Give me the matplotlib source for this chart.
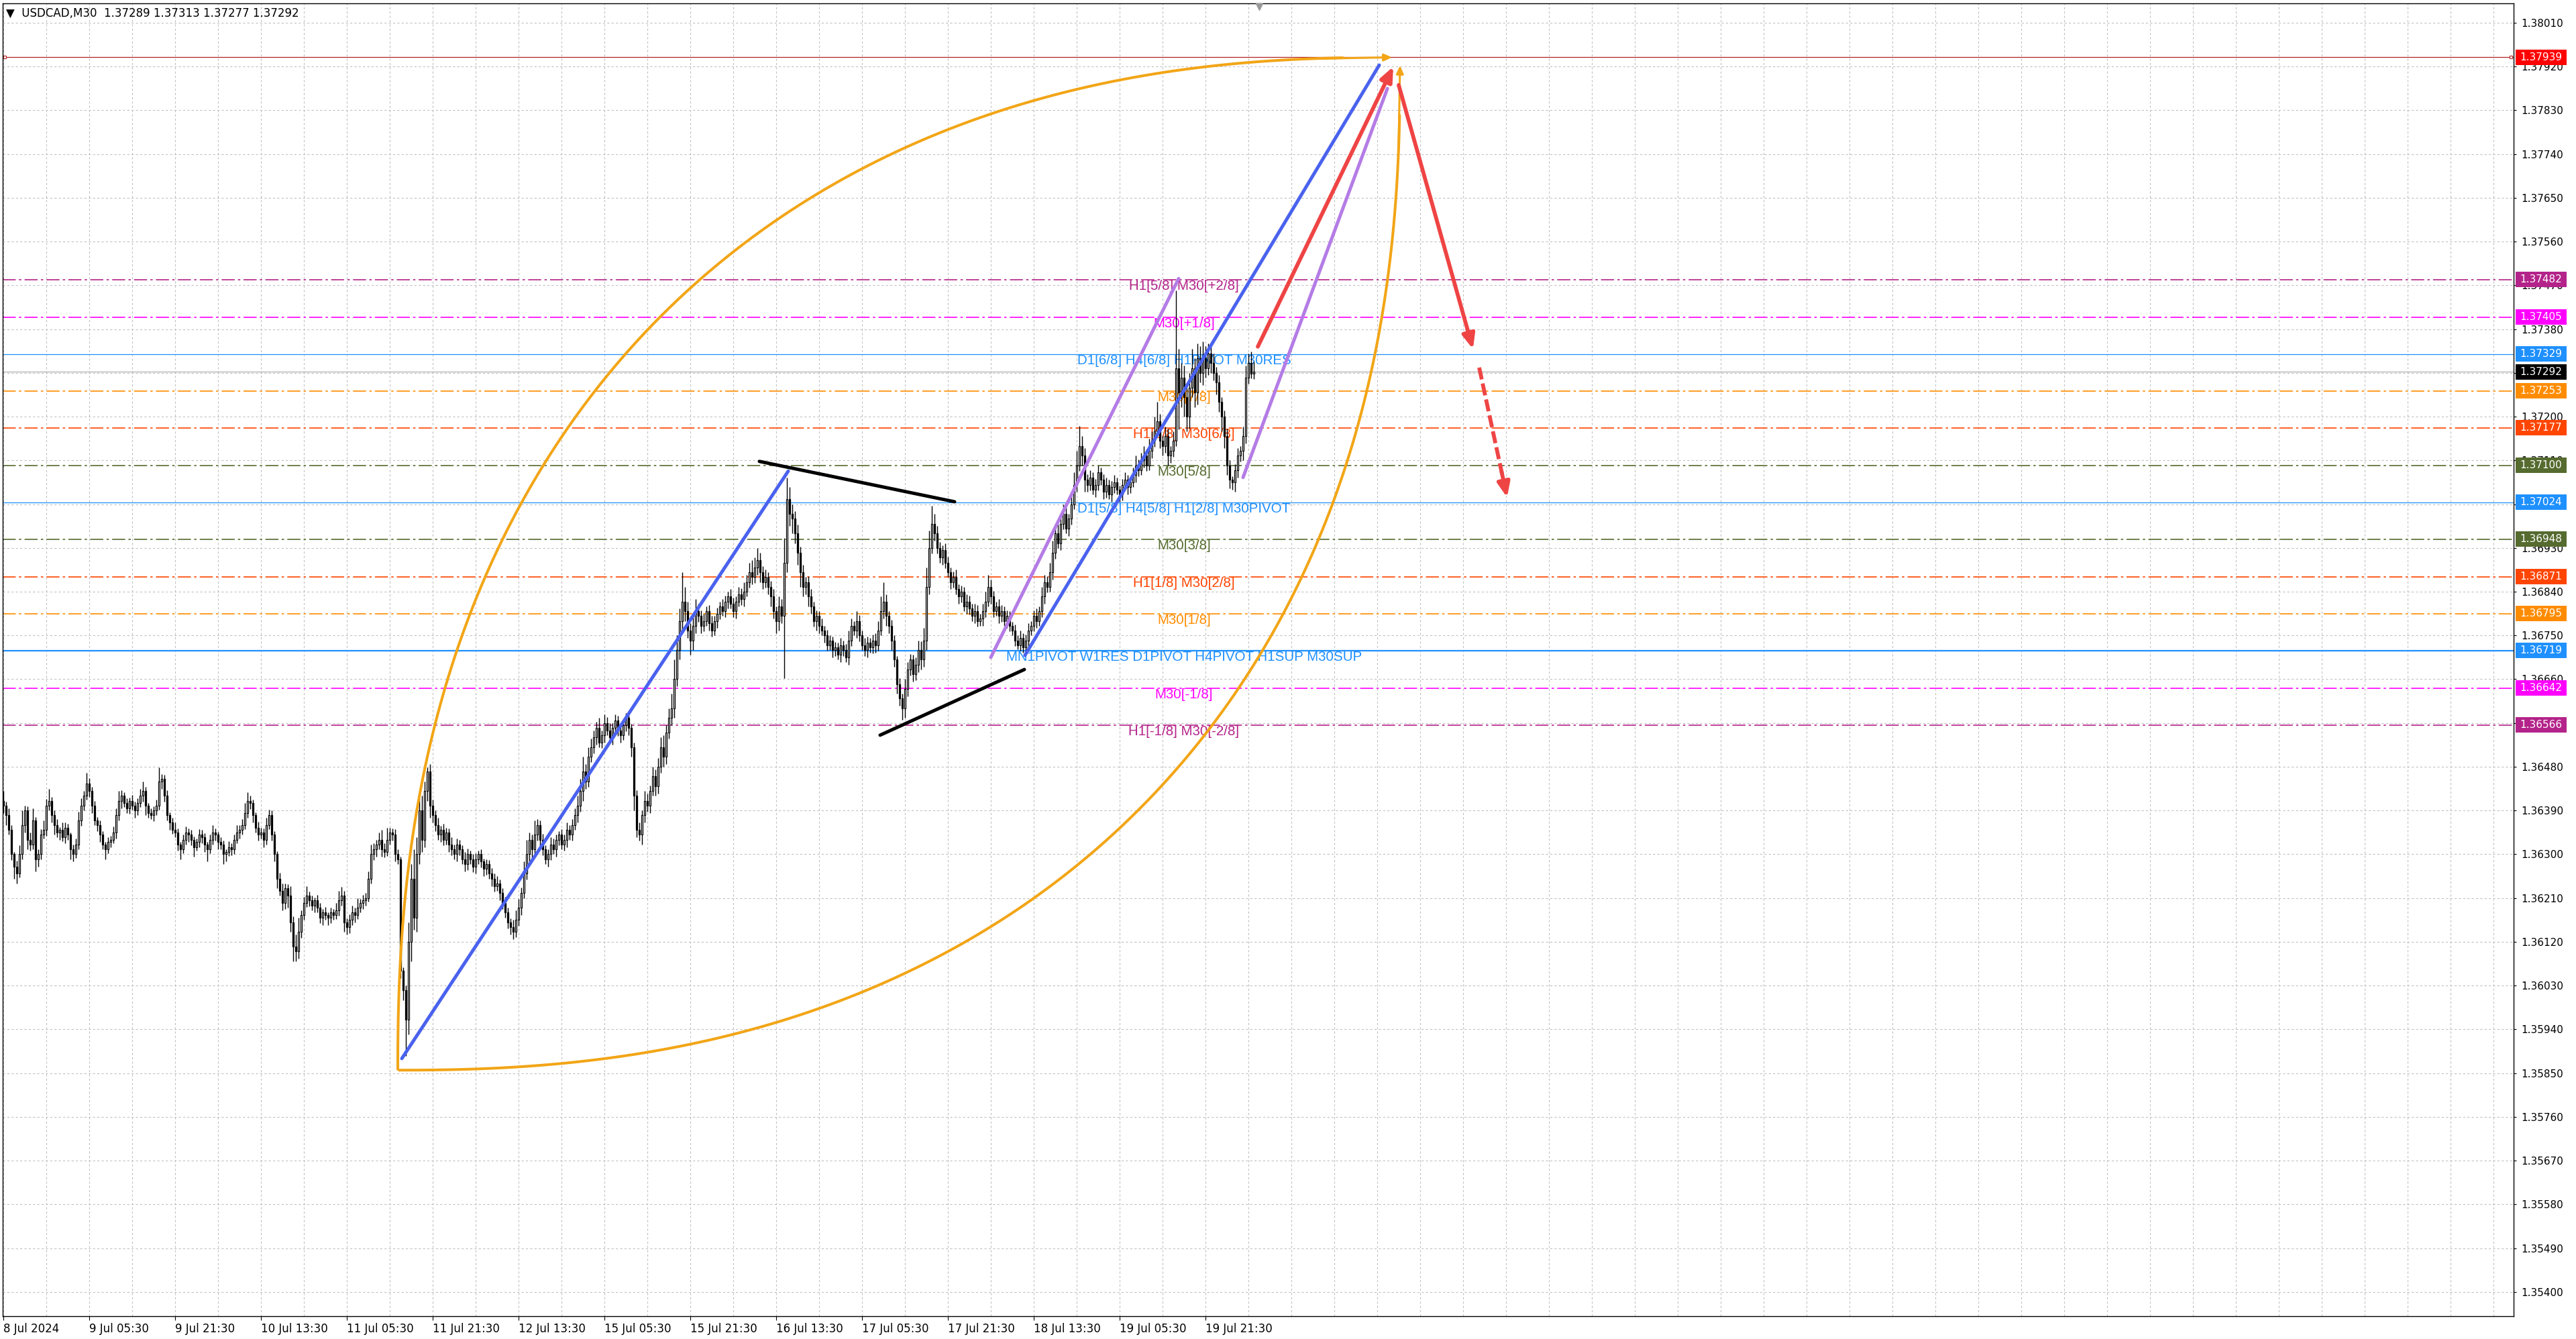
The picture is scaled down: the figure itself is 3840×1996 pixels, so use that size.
import numpy as np
import matplotlib
matplotlib.use('Agg')
import matplotlib.pyplot as plt
from matplotlib.patches import Rectangle, FancyArrowPatch
from matplotlib.ticker import FixedLocator, MultipleLocator
import matplotlib.transforms as mtransforms

plt.rcParams['font.family'] = 'DejaVu Sans'
plt.rcParams['lines.scale_dashes'] = False

# prices are kept in points (0.00001) above 1.36000
BASE = 1.36000
PT = 0.00001

# M30 closes, one per bar
closes = [
    400, 380, 350, 300, 275, 260, 300, 360, 390, 330,
    320, 370, 290, 300, 340, 350, 400, 410, 380, 360,
    345, 350, 335, 355, 340, 310, 300, 320, 370, 400,
    420, 445, 430, 400, 370, 360, 340, 320, 310, 325,
    330, 345, 380, 410, 420, 405, 395, 410, 400, 390,
    405, 420, 430, 400, 385, 380, 390, 400, 450, 455,
    420, 380, 365, 350, 345, 320, 310, 330, 345, 340,
    330, 315, 325, 340, 335, 320, 310, 330, 345, 340,
    325, 320, 300, 305, 315, 310, 330, 345, 350, 360,
    385, 410, 405, 380, 355, 340, 345, 330, 360, 380,
    340, 300, 250, 225, 200, 230, 215, 160, 110, 100,
    140, 175, 200, 215, 205, 195, 205, 190, 170, 180,
    175, 170, 180, 175, 185, 205, 215, 160, 150, 165,
    180, 175, 190, 200, 205, 210, 250, 300, 310, 320,
    330, 310, 305, 330, 345, 340, 300, 290, 60, 20,
    -40, 120, 250, 170, 300, 390, 330, 430, 470, 400,
    380, 360, 340, 350, 330, 345, 320, 310, 300, 320,
    310, 290, 280, 300, 290, 275, 290, 300, 285, 270,
    280, 260, 250, 235, 240, 220, 200, 180, 160, 150,
    140, 165, 190, 220, 260, 300, 330, 310, 340, 360,
    330, 310, 290, 300, 320, 310, 330, 340, 320, 330,
    350, 340, 360, 380, 400, 430, 470, 450, 500, 520,
    540, 560, 530, 545, 570, 555, 540, 560, 575, 555,
    545, 565, 580, 560, 520, 420, 350, 340, 380, 410,
    400, 430, 460, 440, 480, 520, 500, 550, 580, 600,
    660, 720, 780, 820, 800, 760, 740, 770, 800, 790,
    770, 780, 800, 775, 760, 780, 795, 810, 800, 820,
    830, 815, 800, 820, 835, 825, 840, 860, 880, 870,
    890, 905, 880, 860, 870, 850, 830, 800, 780, 810,
    790, 900, 1030, 1000, 990, 960, 920, 880, 850, 860,
    830, 810, 780, 790, 770, 760, 750, 730, 740, 720,
    725, 710, 730, 720, 705, 740, 770, 760, 780, 750,
    730, 720, 735, 725, 740, 730, 760, 800, 820, 790,
    770, 740, 700, 650, 620, 600, 640, 680, 700, 670,
    690, 720, 700, 740, 850, 930, 980, 960, 930, 910,
    925, 900, 880, 860, 870, 845, 830, 840, 810, 820,
    805, 790, 800, 780, 785, 800, 820, 850, 830, 800,
    810, 790, 800, 780, 790, 770, 760, 740, 730, 745,
    725, 740, 760, 770, 790, 780, 800, 830, 860, 850,
    880, 920, 960, 940, 980, 1000, 970, 990, 1020, 1060,
    1100, 1140, 1120, 1070, 1060, 1075, 1050, 1060, 1085, 1070,
    1045, 1060, 1040, 1055, 1065, 1050, 1040, 1060, 1070, 1055,
    1065, 1080, 1100, 1090, 1110, 1120, 1100, 1130, 1150, 1170,
    1190, 1150, 1140, 1160, 1120, 1130, 1150, 1300, 1250, 1280,
    1240, 1200, 1260, 1300, 1250, 1320, 1290, 1320, 1300, 1330,
    1310, 1290, 1270, 1230, 1200, 1160, 1100, 1070, 1065, 1090,
    1120, 1130, 1160, 1280, 1310, 1289, 1292,
]
first_open = 410

upper_wick = [
    20, 8, 15, 10, 5, 12, 18, 30, 10, 8, 15, 25, 6, 10, 12, 20, 14, 25, 8, 10,
    12, 6, 15, 10, 8, 5, 10, 12, 18, 15, 10, 22, 12, 8, 10, 6, 10, 8, 5, 10,
    8, 12, 15, 20, 12, 8, 10, 6, 12, 8, 10, 15, 20, 8, 6, 10, 8, 12, 28, 10,
    8, 12, 6, 10, 15, 8, 5, 10, 12, 8, 10, 6, 8, 12, 10, 8, 5, 10, 15, 8,
    6, 10, 8, 5, 12, 8, 10, 15, 10, 12, 20, 18, 10, 8, 6, 12, 10, 8, 15, 12,
    10, 8, 6, 12, 15, 10, 8, 20, 12, 25, 30, 10, 12, 20, 8, 10, 6, 12, 10, 8,
    12, 6, 10, 8, 15, 20, 18, 10, 8, 12, 15, 10, 20, 8, 12, 10, 15, 20, 12, 10,
    15, 20, 12, 25, 10, 8, 12, 10, 5, 8, 10, 40, 30, 60, 35, 25, 30, 20, 9, 15,
    12, 10, 15, 8, 12, 10, 8, 15, 10, 12, 10, 8, 15, 12, 8, 10, 12, 8, 10, 6,
    10, 8, 12, 10, 15, 8, 10, 12, 10, 8, 15, 20, 18, 12, 25, 30, 15, 10, 30, 12,
    10, 12, 8, 10, 15, 12, 10, 8, 12, 10, 15, 10, 12, 15, 20, 25, 30, 15, 20, 18,
    15, 12, 20, 10, 18, 12, 15, 10, 12, 10, 15, 8, 10, 12, 8, 10, 12, 15, 10, 20,
    15, 12, 20, 15, 18, 20, 25, 15, 20, 30, 40, 30, 25, 60, 30, 20, 15, 20, 25, 15,
    12, 15, 10, 12, 15, 10, 12, 10, 15, 12, 10, 15, 12, 10, 15, 12, 20, 15, 20, 25,
    20, 25, 15, 12, 15, 10, 12, 15, 10, 20, 15, 50, 44, 25, 20, 15, 18, 12, 15, 10,
    12, 15, 10, 12, 10, 15, 10, 12, 10, 8, 12, 10, 15, 10, 12, 20, 15, 10, 20, 12,
    10, 15, 12, 10, 12, 15, 20, 30, 40, 15, 10, 12, 10, 8, 12, 10, 20, 15, 12, 10,
    15, 20, 18, 25, 40, 35, 37, 20, 15, 12, 10, 15, 12, 10, 12, 15, 10, 12, 10, 15,
    12, 10, 15, 12, 10, 15, 20, 25, 15, 12, 10, 15, 12, 10, 12, 10, 8, 12, 10, 15,
    10, 12, 15, 10, 12, 15, 10, 20, 15, 12, 20, 25, 15, 20, 15, 20, 15, 10, 20, 25,
    30, 41, 20, 15, 12, 15, 10, 12, 15, 10, 12, 15, 10, 12, 15, 10, 8, 12, 15, 10,
    12, 15, 20, 12, 15, 20, 12, 25, 20, 30, 40, 15, 12, 20, 15, 10, 20, 160, 40, 30,
    25, 20, 30, 40, 20, 30, 25, 35, 25, 20, 15, 20, 12, 15, 10, 12, 15, 10, 8, 12,
    15, 10, 20, 25, 20, 24, 21,
]

lower_wick = [
    15, 20, 10, 12, 25, 20, 8, 10, 15, 20, 12, 10, 25, 15, 10, 8, 12, 10, 15, 20,
    10, 15, 8, 12, 10, 20, 15, 8, 10, 12, 10, 8, 12, 15, 10, 12, 15, 10, 20, 8,
    10, 8, 12, 10, 15, 8, 10, 12, 8, 15, 10, 8, 12, 20, 10, 8, 12, 10, 8, 15,
    12, 10, 15, 8, 10, 12, 20, 8, 10, 15, 12, 20, 8, 10, 12, 15, 25, 8, 10, 12,
    15, 10, 20, 15, 8, 12, 10, 8, 12, 10, 8, 10, 12, 15, 10, 12, 8, 15, 10, 8,
    12, 15, 20, 10, 15, 12, 25, 20, 30, 20, 15, 12, 10, 8, 12, 10, 15, 10, 12, 15,
    10, 15, 12, 10, 8, 12, 10, 20, 15, 12, 10, 15, 8, 10, 12, 10, 8, 10, 12, 15,
    10, 15, 12, 8, 10, 12, 15, 10, 15, 20, 75, 30, 40, 25, 30, 20, 25, 15, 20, 25,
    15, 12, 10, 15, 12, 10, 15, 12, 10, 15, 12, 10, 15, 12, 10, 12, 15, 10, 12, 15,
    12, 10, 15, 12, 10, 15, 12, 10, 12, 15, 15, 10, 12, 15, 10, 12, 15, 20, 10, 12,
    15, 12, 10, 15, 12, 10, 15, 12, 10, 12, 15, 10, 12, 10, 15, 12, 20, 15, 12, 10,
    12, 15, 10, 12, 15, 10, 12, 15, 10, 12, 15, 10, 12, 15, 20, 30, 15, 12, 20, 15,
    12, 15, 10, 20, 15, 12, 20, 15, 12, 15, 20, 15, 20, 25, 20, 15, 30, 20, 15, 12,
    15, 12, 10, 15, 12, 10, 15, 12, 10, 12, 15, 10, 12, 15, 10, 12, 15, 10, 12, 15,
    12, 15, 20, 15, 12, 15, 20, 15, 25, 20, 15, 128, 20, 25, 30, 20, 25, 30, 20, 15,
    20, 15, 12, 20, 15, 10, 15, 12, 10, 15, 12, 10, 15, 12, 10, 15, 12, 10, 15, 12,
    10, 12, 15, 10, 12, 15, 12, 10, 15, 20, 15, 20, 15, 20, 15, 24, 20, 15, 12, 15,
    12, 15, 20, 15, 20, 15, 12, 15, 12, 10, 15, 12, 10, 15, 12, 10, 15, 12, 10, 15,
    12, 10, 15, 12, 10, 15, 12, 10, 15, 12, 10, 15, 12, 10, 15, 12, 10, 12, 8, 12,
    10, 12, 15, 10, 12, 15, 10, 12, 15, 12, 10, 15, 12, 10, 15, 12, 10, 15, 12, 10,
    15, 12, 20, 25, 15, 12, 10, 15, 12, 10, 15, 12, 10, 15, 12, 10, 15, 12, 10, 15,
    12, 10, 15, 12, 10, 15, 12, 10, 15, 12, 10, 15, 20, 15, 20, 15, 12, 10, 76, 30,
    40, 30, 25, 20, 30, 25, 20, 25, 20, 15, 20, 15, 25, 20, 30, 25, 20, 18, 15, 20,
    15, 12, 20, 15, 12, 10, 12,
]

if not (len(closes) == len(upper_wick) == len(lower_wick)):
    raise SystemExit(f'lengths {len(closes)} {len(upper_wick)} {len(lower_wick)}')

date_labels = ['8 Jul 2024', '9 Jul 05:30', '9 Jul 21:30', '10 Jul 13:30',
               '11 Jul 05:30', '11 Jul 21:30', '12 Jul 13:30', '15 Jul 05:30',
               '15 Jul 21:30', '16 Jul 13:30', '17 Jul 05:30', '17 Jul 21:30',
               '18 Jul 13:30', '19 Jul 05:30', '19 Jul 21:30']
bars_per_label = 32

# levels on the right price scale
levels = [1.37939, 1.37482, 1.37405, 1.37329, 1.37292, 1.37253, 1.37177, 1.37100,
          1.37024, 1.36948, 1.36871, 1.36795, 1.36719, 1.36642, 1.36566]
level_names = ['', 'H1[5/8] M30[+2/8]', 'M30[+1/8]', 'D1[6/8] H4[6/8] H1PIVOT M30RES',
               '', 'M30[7/8]', 'H1[3/8] M30[6/8]', 'M30[5/8]',
               'D1[5/8] H4[5/8] H1[2/8] M30PIVOT', 'M30[3/8]', 'H1[1/8] M30[2/8]',
               'M30[1/8]', 'MN1PIVOT W1RES D1PIVOT H4PIVOT H1SUP M30SUP',
               'M30[-1/8]', 'H1[-1/8] M30[-2/8]']
title = 'USDCAD,M30  1.37289 1.37313 1.37277 1.37292'

# drawn objects, (bar, price) anchors
blue_lines = [((148.5, 1.35880), (292.5, 1.37088)),
              ((380.7, 1.36709), (512.75, 1.37923))]
purple_lines = [((368.0, 1.36705), (438.0, 1.37484)),
                ((462.0, 1.37075), (515.8, 1.37875))]
black_lines = [((281.75, 1.37108), (354.5, 1.37025)),
               ((326.75, 1.36545), (380.5, 1.36680))]
arc_upper = ((147.0, 1.35858), (517.5, 1.37939))
arc_lower = ((147.5, 1.35856), (520.5, 1.37922))
red_arrows = [((467.5, 1.37344), (518.0, 1.37920)),
              ((520.0, 1.37882), (547.7, 1.37339))]
red_dashed = ((550.0, 1.37301), (560.4, 1.37034))

# ---- styles
VIOLET = '#b4238a'
MAGENTA = '#ff00ff'
DBLUE = '#1e90ff'
DORANGE = '#ff8c00'
ORED = '#ff4500'
OLIVE = '#556b2f'
line_cols = ['#b22222', VIOLET, MAGENTA, DBLUE, '#b0b0b0', DORANGE, ORED, OLIVE,
             DBLUE, OLIVE, ORED, DORANGE, DBLUE, MAGENTA, VIOLET]
box_cols = ['#ff0000', VIOLET, MAGENTA, DBLUE, '#000000', DORANGE, ORED, OLIVE,
            DBLUE, OLIVE, ORED, DORANGE, DBLUE, MAGENTA, VIOLET]
DASHDOT = (0, (14, 3.5, 2.5, 3.5))
line_styles = ['-', DASHDOT, DASHDOT, '-', '-', DASHDOT, DASHDOT, DASHDOT,
               '-', DASHDOT, DASHDOT, DASHDOT, '-', DASHDOT, DASHDOT]
line_widths = [0.9, 1.2, 1.2, 0.9, 0.9, 1.2, 1.2, 1.2, 0.9, 1.2, 1.2, 1.2, 1.6, 1.2, 1.2]

W, H = 3840, 1996
fig = plt.figure(figsize=(W / 100, H / 100), dpi=100)
fig.patch.set_facecolor('white')
ax = fig.add_axes([4 / W, 34 / H, 3743 / W, 1957 / H])
ax.set_facecolor('white')

YMIN, YMAX = 1.35350, 1.38050
ax.set_xlim(-0.25, 935.5)
ax.set_ylim(YMIN, YMAX)

# grid + ticks
price_ticks = np.round(np.arange(1.35400, 1.38011, 0.0009), 5)
ax.yaxis.tick_right()
ax.set_yticks(price_ticks)
ax.set_yticklabels([f'{p:.5f}' for p in price_ticks])
ax.xaxis.set_major_locator(FixedLocator(range(0, bars_per_label * len(date_labels), bars_per_label)))
ax.set_xticklabels(date_labels, ha='left')
ax.xaxis.set_minor_locator(MultipleLocator(bars_per_label // 2))
ax.tick_params(axis='y', which='major', length=3, width=0.8, pad=5, labelsize=11, colors='black')
ax.tick_params(axis='x', which='major', length=4, width=0.8, pad=3, labelsize=12, colors='black')
ax.tick_params(axis='x', which='minor', length=0)
gkw = dict(color='#c0c0c0', linestyle=(0, (2.3, 2.3)), linewidth=0.8)
ax.grid(axis='y', which='major', **gkw)
ax.grid(axis='x', which='both', **gkw)
ax.set_axisbelow(True)
for s in ax.spines.values():
    s.set_color('black')
    s.set_linewidth(1.0)

# level lines and their labels
text_x = 440
for p, name, lc, ls, lw in zip(levels, level_names, line_cols, line_styles, line_widths):
    ax.axhline(p, color=lc, linestyle=ls, linewidth=lw, zorder=1.5)
    if name:
        ax.text(text_x, p, name, color=lc, fontsize=14.8, family='Liberation Sans',
                ha='center', va='top', zorder=2)
ax.plot([0.6, 934.4], [levels[0]] * 2, 's', ms=3.5, mfc='white', mec='#b22222',
        mew=0.8, zorder=2)

# candles
n = len(closes)
opens = [first_open] + closes[:-1]
o = BASE + np.array(opens) * PT
c = BASE + np.array(closes) * PT
hi = np.maximum(o, c) + np.array(upper_wick) * PT
lo = np.minimum(o, c) - np.array(lower_wick) * PT
xb = np.arange(n)
ax.vlines(xb, lo, hi, color='black', linewidth=1.0, zorder=3)
up = c >= o
ax.bar(xb[up], (c - o)[up], bottom=o[up], width=0.7, facecolor='white',
       edgecolor='black', linewidth=0.9, zorder=3.1)
ax.bar(xb[~up], (o - c)[~up], bottom=c[~up], width=0.7, facecolor='black',
       edgecolor='black', linewidth=0.9, zorder=3.1)

# orange arcs
ORANGE = '#f2a516'
arc_k = 2 / 2.3
t = np.linspace(0, np.pi / 2, 300)
(sx, sy), (ex, ey) = arc_upper
xa = ex - (ex - sx) * np.cos(t) ** arc_k
ya = sy + (ey - sy) * np.sin(t) ** arc_k
(sx2, sy2), (ex2, ey2) = arc_lower
xb2 = sx2 + (ex2 - sx2) * np.sin(t) ** arc_k
yb2 = ey2 - (ey2 - sy2) * np.cos(t) ** arc_k
for xs, ys in ((xa, ya), (xb2, yb2)):
    ax.plot(xs[:-6], ys[:-6], color=ORANGE, linewidth=2.9, solid_capstyle='round', zorder=4)
    ax.add_patch(FancyArrowPatch((xs[-12], ys[-12]), (xs[-1], ys[-1]),
                                 arrowstyle='-|>,head_length=7,head_width=3.2',
                                 mutation_scale=1, color=ORANGE, linewidth=2.2,
                                 shrinkA=0, shrinkB=0, zorder=4))

# trend lines
for segs, col in ((blue_lines, '#4a62ee'), (purple_lines, '#b47ce6'), (black_lines, 'black')):
    for (x0, y0), (x1, y1) in segs:
        ax.plot([x0, x1], [y0, y1], color=col, linewidth=3.6,
                solid_capstyle='round', zorder=4.2)

# red arrows
RED = '#ef4444'
for a, b in red_arrows:
    ax.add_patch(FancyArrowPatch(a, b, arrowstyle='-|>,head_length=13,head_width=5.5',
                                 mutation_scale=1, color=RED, linewidth=4.2,
                                 capstyle='round', shrinkA=0, shrinkB=0, zorder=4.5))
(a0, a1), (b0, b1) = red_dashed
ax.plot([a0, a0 + 0.82 * (b0 - a0)], [a1, a1 + 0.82 * (b1 - a1)], color=RED,
        linewidth=4.2, linestyle=(0, (13, 4.5)), dash_capstyle='butt', zorder=4.5)
ax.add_patch(FancyArrowPatch((a0 + 0.8 * (b0 - a0), a1 + 0.8 * (b1 - a1)), (b0, b1),
                             arrowstyle='-|>,head_length=13,head_width=5.5',
                             mutation_scale=1, color=RED, linewidth=4.2,
                             shrinkA=0, shrinkB=0, zorder=4.5))

# price boxes on the right scale
px_per_price = 1957 / (YMAX - YMIN)
box_h = 23 / px_per_price
trans = mtransforms.blended_transform_factory(ax.transAxes, ax.transData)
bx0 = 1 + 3 / 3743
bw = 76 / 3743
for p, bc in zip(levels, box_cols):
    ax.add_patch(Rectangle((bx0, p - box_h / 2), bw, box_h, transform=trans,
                           facecolor=bc, edgecolor='none', clip_on=False, zorder=5))
    ax.text(bx0 + bw / 2, p, f'{p:.5f}', transform=trans, color='white', fontsize=11,
            ha='center', va='center', clip_on=False, zorder=6)

# header text and chart-shift mark
ax.text(5 / 3743, 1 - 15 / 1957, '\u25bc  ' + title, transform=ax.transAxes,
        fontsize=12, color='black', ha='left', va='center', zorder=6)
ax.plot([n + 1], [YMAX - 5 / px_per_price], marker='v', ms=7, color='#9a9a9a',
        clip_on=False, zorder=6)

fig.savefig('out.png', dpi=100, facecolor='white')
